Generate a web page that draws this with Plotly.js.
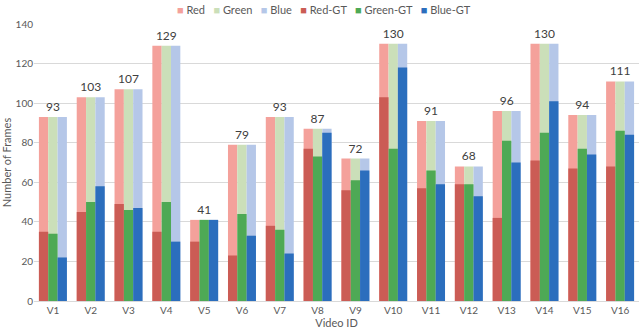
<!DOCTYPE html>
<html>
<head>
<meta charset="utf-8">
<script src="https://cdn.plot.ly/plotly-3.0.1.min.js"></script>
<style>
  html, body { margin: 0; padding: 0; background: #fff; }
  #chart { width: 640px; height: 330px; }
</style>
</head>
<body>
<div id="chart"></div>
<script>
var videos = ['V1','V2','V3','V4','V5','V6','V7','V8','V9','V10','V11','V12','V13','V14','V15','V16'];
var totals = [93,103,107,129,41,79,93,87,72,130,91,68,96,130,94,111];
var redGT   = [35,45,49,35,30,23,38,77,56,103,57,59,42,71,67,68];
var greenGT = [34,50,46,50,41,44,36,73,61,77,66,59,81,85,77,86];
var blueGT  = [22,58,47,30,41,33,24,85,66,118,59,53,70,101,74,84];

var seriesNames = ['Red', 'Green', 'Blue', 'Red-GT', 'Green-GT', 'Blue-GT'];
var seriesCols = ['#F4A19B', '#CBDFB9', '#B5C7E8', '#CB5C55', '#4EA955', '#2B6EBD'];

var data = [
  {x: videos, y: totals, name: seriesNames[0], type: 'bar', offsetgroup: 'r',
   marker: {color: seriesCols[0]}},
  {x: videos, y: totals, name: seriesNames[1], type: 'bar', offsetgroup: 'g',
   marker: {color: seriesCols[1]},
   text: totals.map(String), textposition: 'outside', cliponaxis: false,
   constraintext: 'none',
   textfont: {family: 'Lato', size: 12, color: '#404040'}},
  {x: videos, y: totals, name: seriesNames[2], type: 'bar', offsetgroup: 'b',
   marker: {color: seriesCols[2]}},
  {x: videos, y: redGT, name: seriesNames[3], type: 'bar', offsetgroup: 'r',
   marker: {color: seriesCols[3]}},
  {x: videos, y: greenGT, name: seriesNames[4], type: 'bar', offsetgroup: 'g',
   marker: {color: seriesCols[4]}},
  {x: videos, y: blueGT, name: seriesNames[5], type: 'bar', offsetgroup: 'b',
   marker: {color: seriesCols[5]}}
];

// compact legend like the original: small coloured squares with names
var legendText = seriesNames.map(function (n, i) {
  return '<span style="color:' + seriesCols[i] + '">■</span> ' + n;
}).join('&nbsp;&nbsp;&nbsp;');

var layout = {
  width: 640,
  height: 330,
  margin: {l: 34, r: 1, t: 24, b: 29, autoexpand: false},
  paper_bgcolor: '#ffffff',
  plot_bgcolor: '#ffffff',
  barmode: 'group',
  bargap: 0.26,
  bargroupgap: 0,
  font: {family: 'Lato', size: 10, color: '#595959'},
  showlegend: false,
  annotations: [{
    xref: 'paper', yref: 'paper', x: 0.48, y: 1.052, xanchor: 'center', yanchor: 'middle',
    showarrow: false, text: legendText,
    font: {family: 'Lato', size: 11, color: '#595959'}
  }],
  xaxis: {
    title: {text: 'Video ID', font: {size: 11, color: '#595959'}, standoff: 2},
    showgrid: false, showline: true, linecolor: '#D9D9D9', linewidth: 1,
    ticks: '', tickfont: {size: 10, color: '#595959'}
  },
  yaxis: {
    title: {text: 'Number of Frames', font: {size: 11, color: '#595959'}, standoff: 6},
    range: [0, 140], dtick: 20, showgrid: true, gridcolor: '#D9D9D9',
    zeroline: false, showline: false, ticks: '',
    tickfont: {size: 10, color: '#595959'}
  }
};

Plotly.newPlot('chart', data, layout, {displayModeBar: false, staticPlot: true});
</script>
</body>
</html>
